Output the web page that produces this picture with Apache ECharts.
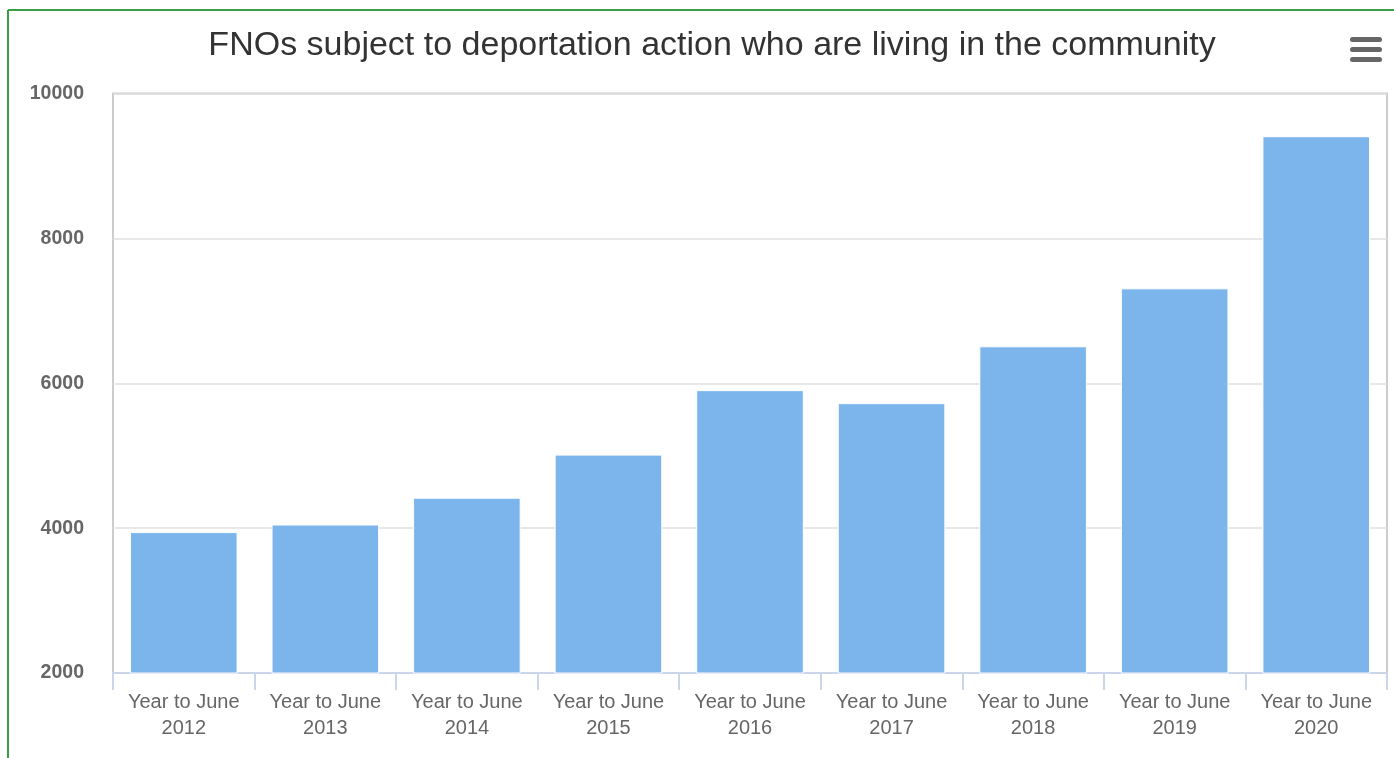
<!DOCTYPE html>
<html><head><meta charset="utf-8">
<script src="https://cdn.jsdelivr.net/npm/echarts@6/dist/echarts.min.js"></script>
<style>html,body{margin:0;padding:0;background:#fff}#c{width:1394px;height:758px}</style>
</head><body><div id="c"></div>
<script>
const titleText = 'FNOs subject to deportation action who are living in the community';
const categories = ['Year to June\n2012','Year to June\n2013','Year to June\n2014','Year to June\n2015','Year to June\n2016','Year to June\n2017','Year to June\n2018','Year to June\n2019','Year to June\n2020'];
const values = [3945, 4050, 4420, 5015, 5905, 5725, 6510, 7310, 9410];
const yMin = 2000, yMax = 10000, yStep = 2000;

const chart = echarts.init(document.getElementById('c'));
const font = 'Liberation Sans, Arial, sans-serif';
chart.setOption({
  animation: false,
  title: {text: titleText, left: 707, top: 24, textAlign: 'center',
    textStyle: {fontFamily: font, fontSize: 34, fontWeight: 'normal', color: '#333'}},
  grid: {left: 113, right: 7, top: 93.5, bottom: 85, show: true, borderColor: '#cccccc', borderWidth: 2, containLabel: false},
  xAxis: {type: 'category', data: categories,
    axisLine: {show: true, lineStyle: {color: '#ccd6eb', width: 2}},
    axisTick: {show: true, interval: 0, length: 17, lineStyle: {color: '#ccd6eb', width: 2}},
    axisLabel: {interval: 0, color: '#666', fontFamily: font, fontSize: 20, lineHeight: 26, margin: 16}},
  yAxis: {type: 'value', min: yMin, max: yMax, interval: yStep,
    axisLine: {show: false}, axisTick: {show: false},
    splitLine: {lineStyle: {color: '#e0e0e0', width: 1.5}},
    axisLabel: {color: '#666', fontFamily: font, fontSize: 19.5, fontWeight: 'bold', margin: 29,
      lineHeight: 26, padding: [5, 0, 0, 0], formatter: v => String(v)}},
  series: [{type: 'bar', data: values, barCategoryGap: '24%',
    itemStyle: {color: '#7cb5ec', borderColor: '#ffffff', borderWidth: 1}}],
  graphic: [
    {type: 'line', shape: {x1: 8, y1: 10, x2: 1394, y2: 10}, style: {stroke: '#3a9e45', lineWidth: 2}},
    {type: 'line', shape: {x1: 8, y1: 10, x2: 8, y2: 758}, style: {stroke: '#3a9e45', lineWidth: 2}},
    {type: 'rect', shape: {x: 1350, y: 37, width: 32, height: 5, r: 2.5}, style: {fill: '#666'}},
    {type: 'rect', shape: {x: 1350, y: 47, width: 32, height: 5, r: 2.5}, style: {fill: '#666'}},
    {type: 'rect', shape: {x: 1350, y: 57, width: 32, height: 5, r: 2.5}, style: {fill: '#666'}}
  ]
});
</script></body></html>
